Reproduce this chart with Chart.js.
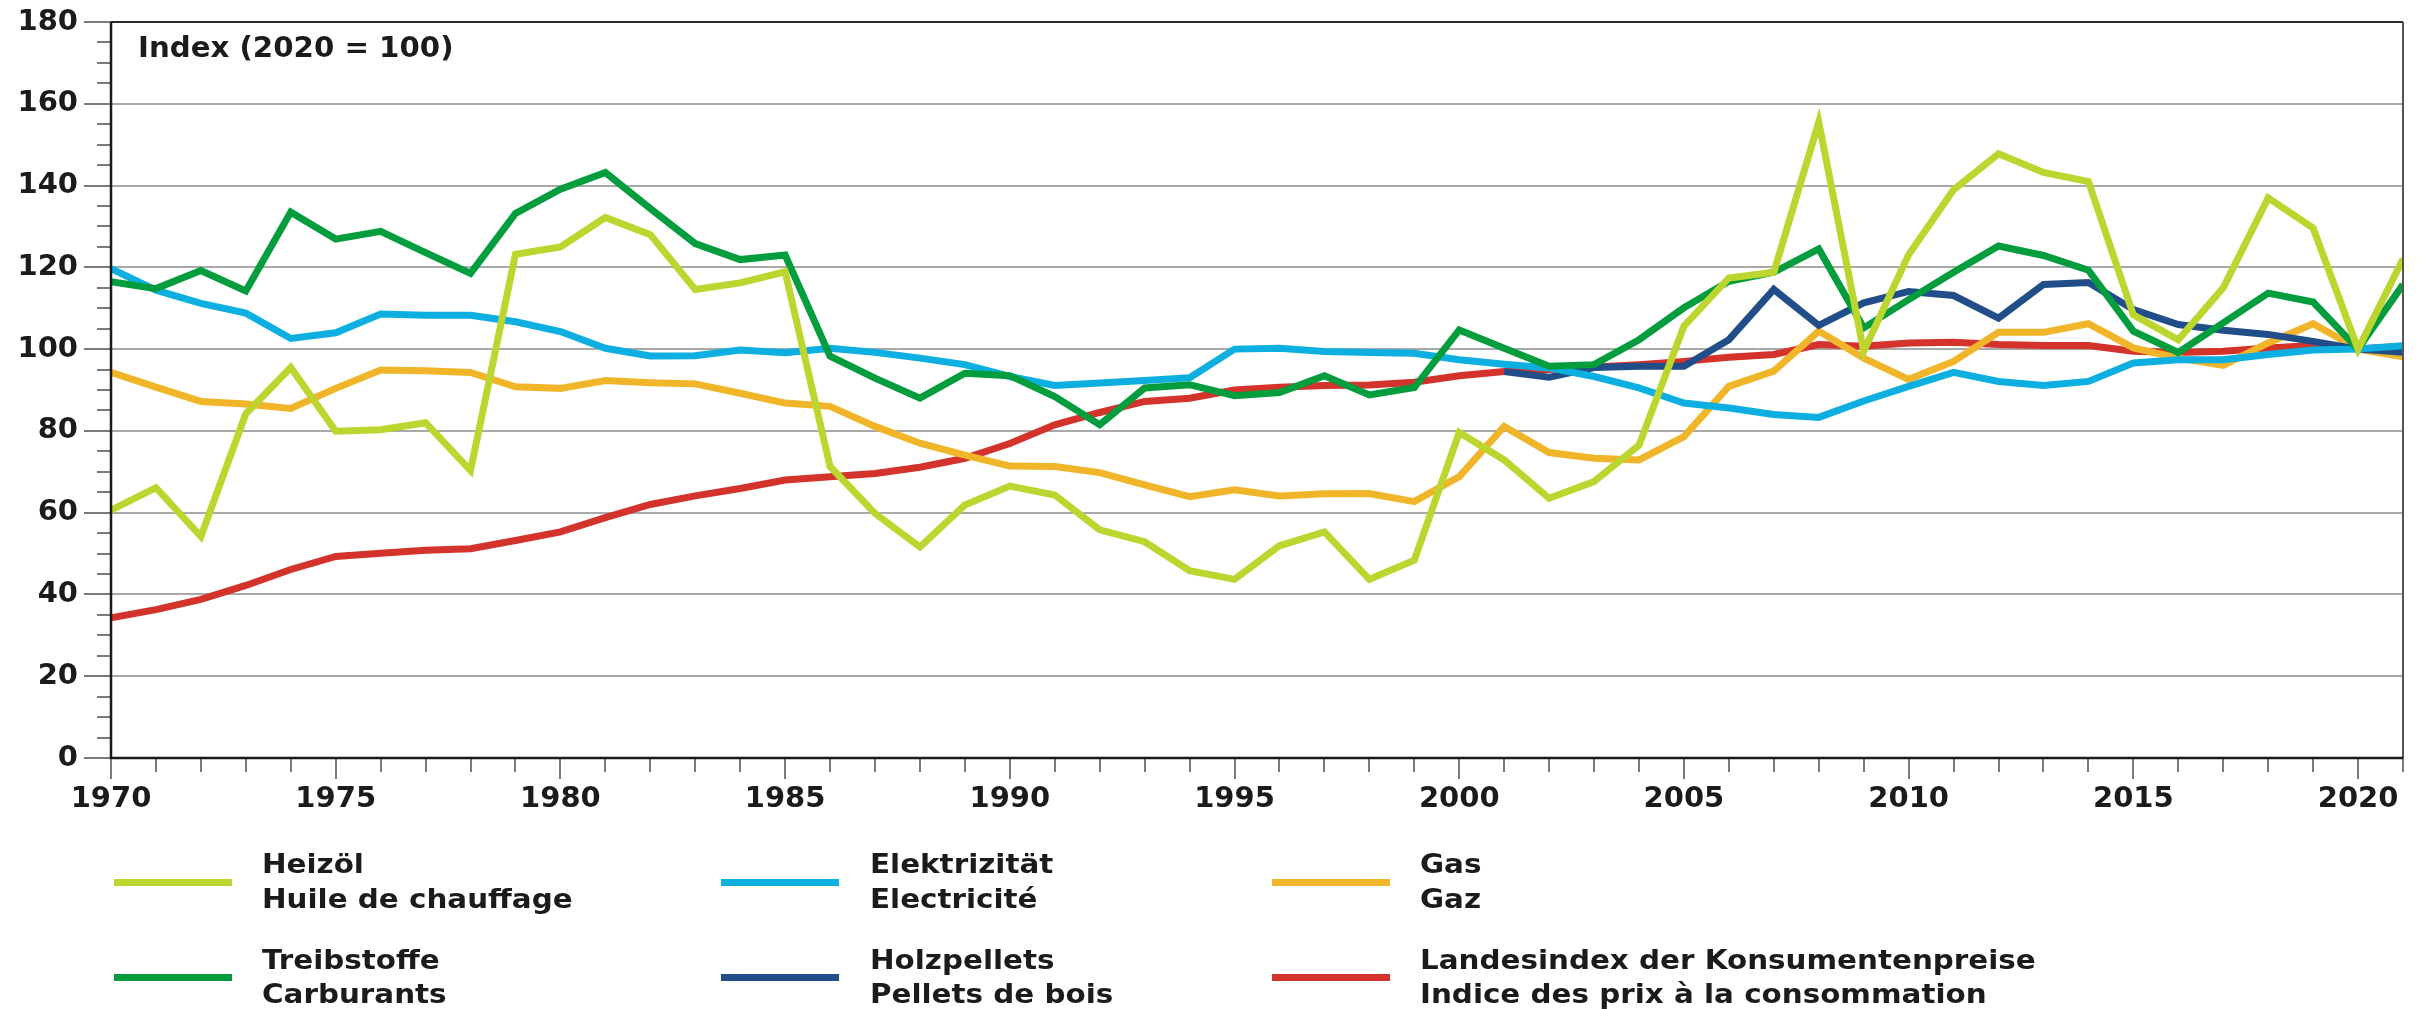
<!DOCTYPE html>
<html><head><meta charset="utf-8">
<script src="https://cdn.jsdelivr.net/npm/chart.js@4.4.1/dist/chart.umd.min.js"></script>
<style>
html,body{margin:0;padding:0;background:#fff;overflow:hidden}
#wrap{position:relative;width:2427px;height:1009px;background:#fff}
#c{position:absolute;left:0;top:0}
.txt{position:absolute;font-family:'DejaVu Sans',sans-serif;font-weight:bold;color:#1b1b1b;white-space:nowrap;transform-origin:0 0}
.leg{font-size:26px;line-height:34.5px;transform:scaleX(1.13)}
.sw{position:absolute;height:7px;width:118px}
#idx{font-size:28.4px;line-height:33px;left:138px;top:31px;transform:scaleX(1.03)}
</style></head><body>
<div id="wrap"><canvas id="c" width="2427" height="1009"></canvas>
<div id="idx" class="txt">Index (2020 = 100)</div></div>
<script>
const years = [1970,1971,1972,1973,1974,1975,1976,1977,1978,1979,
  1980,1981,1982,1983,1984,1985,1986,1987,1988,1989,
  1990,1991,1992,1993,1994,1995,1996,1997,1998,1999,
  2000,2001,2002,2003,2004,2005,2006,2007,2008,2009,
  2010,2011,2012,2013,2014,2015,2016,2017,2018,2019,
  2020,2021];

const heizoel = [60.6,66.1,54.2,84.2,95.5,79.9,80.3,82.0,70.3,123.2,
  125.0,132.2,128.0,114.6,116.2,118.9,71.3,59.8,51.6,61.9,
  66.5,64.3,55.8,52.9,45.8,43.7,51.9,55.3,43.7,48.4,
  79.6,72.9,63.5,67.6,76.5,105.6,117.4,118.8,155.5,99.5,
  123.1,139.0,147.8,143.2,141.0,108.4,102.3,115.0,137.0,129.6,
  100,122.0];

const treibstoffe = [116.5,114.8,119.2,114.2,133.5,126.9,128.8,123.6,118.5,133.2,
  139.1,143.2,134.4,125.8,121.9,123.0,98.3,92.9,88.0,94.1,
  93.5,88.4,81.5,90.5,91.3,88.6,89.4,93.5,88.8,90.6,
  104.7,100.2,95.8,96.2,102.3,110.1,116.6,118.8,124.5,105.2,
  112.1,118.8,125.2,122.9,119.3,104.4,99.2,106.4,113.7,111.5,
  100,115.8];

const elektrizitaet = [119.7,114.4,111.2,108.8,102.6,104.0,108.6,108.3,108.3,106.7,
  104.3,100.2,98.3,98.4,99.8,99.1,100.2,99.2,97.8,96.2,
  93.3,91.1,91.7,92.3,93.0,100.0,100.2,99.4,99.2,99.0,
  97.4,96.3,95.4,93.3,90.5,86.8,85.6,84.0,83.3,87.3,
  90.9,94.3,92.1,91.1,92.1,96.6,97.4,97.4,98.7,99.8,
  100,100.8];

const holzpellets = [null,null,null,null,null,null,null,null,null,null,
  null,null,null,null,null,null,null,null,null,null,
  null,null,null,null,null,null,null,null,null,null,
  null,94.5,93.1,95.5,95.8,95.8,102.3,114.6,105.8,111.3,
  114.1,113.1,107.6,115.8,116.3,109.7,106.0,104.6,103.6,101.9,
  100,99.2];

const gas = [94.3,90.7,87.2,86.6,85.5,90.4,94.9,94.7,94.3,90.8,
  90.4,92.3,91.8,91.5,89.2,86.8,86.0,81.1,77.0,74.1,
  71.4,71.3,69.8,66.8,63.9,65.6,64.1,64.6,64.7,62.7,
  68.8,81.1,74.7,73.3,72.9,78.6,90.9,94.6,104.4,97.8,
  92.6,97.0,104.1,104.1,106.2,100.3,97.8,96.0,101.5,106.2,
  100,98.1];

const lik = [34.3,36.3,38.8,42.2,46.1,49.3,50.1,50.8,51.2,53.2,
  55.3,58.8,62.0,64.1,65.9,68.0,68.8,69.6,71.1,73.3,
  76.9,81.5,84.5,87.2,88.0,90.0,90.7,91.1,91.2,91.9,
  93.5,94.5,95.0,95.6,96.2,97.0,98.0,98.7,101.1,100.7,
  101.5,101.7,101.1,100.9,100.9,99.5,99.2,99.5,100.3,100.9,
  100,100.7];

const yTicks = [0,20,40,60,80,100,120,140,160,180];

// series: data, German label, French label, colour, legend column, legend row
const series = [
  {data: heizoel, de: 'Heizöl', fr: 'Huile de chauffage', color: '#bdd52f', col: 0, row: 0},
  {data: treibstoffe, de: 'Treibstoffe', fr: 'Carburants', color: '#039d3e', col: 0, row: 1},
  {data: elektrizitaet, de: 'Elektrizität', fr: 'Electricité', color: '#0cafe0', col: 1, row: 0},
  {data: holzpellets, de: 'Holzpellets', fr: 'Pellets de bois', color: '#214e89', col: 1, row: 1},
  {data: gas, de: 'Gas', fr: 'Gaz', color: '#f1b52a', col: 2, row: 0},
  {data: lik, de: 'Landesindex der Konsumentenpreise', fr: 'Indice des prix à la consommation', color: '#d3332b', col: 2, row: 1}
];

const FONT = "'DejaVu Sans', sans-serif";

const tickMarks = {
  id: 'tickMarks',
  afterDraw(chart) {
    const {ctx, chartArea: a, scales: {x, y}} = chart;
    ctx.save();
    ctx.strokeStyle = '#7a7a7a';
    ctx.lineWidth = 2;
    years.forEach(yr => {
      const px = Math.round(x.getPixelForValue(yr));
      const len = yr % 5 === 0 ? 21 : 14;
      ctx.beginPath(); ctx.moveTo(px, a.bottom); ctx.lineTo(px, a.bottom + len); ctx.stroke();
    });
    for (let v = 0; v <= 180; v += 5) {
      const py = Math.round(y.getPixelForValue(v));
      const len = v % 20 === 0 ? 27 : 14;
      ctx.beginPath(); ctx.moveTo(a.left, py); ctx.lineTo(a.left - len, py); ctx.stroke();
    }
    ctx.strokeStyle = '#555';
    ctx.lineWidth = 2;
    ctx.beginPath(); ctx.moveTo(a.right, a.top); ctx.lineTo(a.right, a.bottom); ctx.stroke();
    ctx.strokeStyle = '#1a1a1a';
    ctx.lineWidth = 2.5;
    ctx.beginPath(); ctx.moveTo(a.left, a.top); ctx.lineTo(a.left, a.bottom); ctx.lineTo(a.right, a.bottom); ctx.stroke();
    ctx.restore();
  }
};

const chart = new Chart(document.getElementById('c'), {
  type: 'line',
  data: {
    datasets: series.map(s => ({
      label: s.de,
      data: s.data.map((v, i) => ({x: years[i], y: v})),
      borderColor: s.color,
      backgroundColor: s.color,
      borderWidth: 7,
      pointRadius: 0,
      tension: 0,
      borderJoinStyle: 'miter',
      borderCapStyle: 'butt',
      spanGaps: false,
      fill: false
    }))
  },
  options: {
    responsive: false,
    animation: false,
    devicePixelRatio: 1,
    layout: {padding: {top: 22, right: 24, left: 0, bottom: 0}},
    plugins: {legend: {display: false}, tooltip: {enabled: false}},
    scales: {
      x: {
        type: 'linear',
        min: years[0], max: years[years.length - 1],
        afterBuildTicks: s => { s.ticks = years.map(v => ({value: v})); },
        afterFit: s => { s.height = 251; s.paddingLeft = 0; s.paddingRight = 0; },
        ticks: {
          autoSkip: false, maxRotation: 0, minRotation: 0,
          callback: v => (v % 5 === 0 ? String(v) : ''),
          font: {family: FONT, size: 29, weight: 'bold'},
          color: '#1b1b1b', padding: 24
        },
        grid: {drawOnChartArea: false, drawTicks: false},
        border: {display: false}
      },
      y: {
        min: 0, max: 180,
        afterBuildTicks: s => { s.ticks = yTicks.map(v => ({value: v})); },
        afterFit: s => { s.width = 111; s.paddingTop = 0; s.paddingBottom = 0; },
        ticks: {
          font: {family: FONT, size: 29, weight: 'bold'},
          color: '#1b1b1b', padding: 33
        },
        grid: {
          drawTicks: false,
          color: c => (c.tick && c.tick.value === 180 ? '#2a2a2a' : '#a9a9a9'),
          lineWidth: 2
        },
        border: {display: false}
      }
    }
  },
  plugins: [tickMarks]
});

// legend (HTML, built from the series definitions)
const wrap = document.getElementById('wrap');
const swLeft = [114, 721, 1272];
const txLeft = [262, 870, 1420];
const swTop = [878.5, 973.5];
const txTop = [847, 942.5];
series.forEach(s => {
  const sw = document.createElement('div');
  sw.className = 'sw';
  sw.style.left = swLeft[s.col] + 'px';
  sw.style.top = swTop[s.row] + 'px';
  sw.style.background = s.color;
  wrap.appendChild(sw);
  const t = document.createElement('div');
  t.className = 'txt leg';
  t.style.left = txLeft[s.col] + 'px';
  t.style.top = txTop[s.row] + 'px';
  t.innerHTML = s.de + '<br>' + s.fr;
  wrap.appendChild(t);
});
</script>
</body></html>
